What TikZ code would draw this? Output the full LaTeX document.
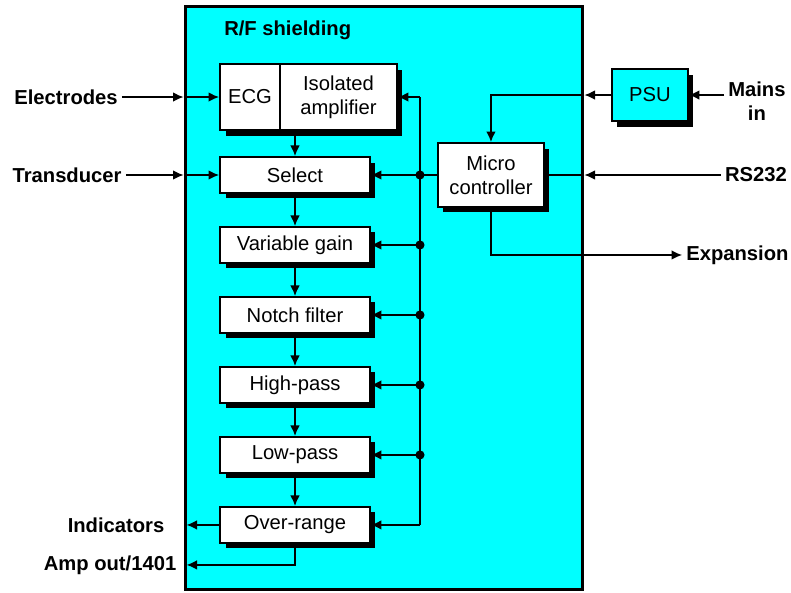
\documentclass[tikz,border=0pt]{standalone}
\usepackage{fontspec}
\setmainfont{Liberation Sans}
\usepackage{tikz}
\usetikzlibrary{arrows.meta,positioning,shadows}
\definecolor{shieldcyan}{RGB}{0,255,255}
\tikzstyle{block} = [draw, rectangle, fill=white, line width=1.1pt, minimum height=0.72cm, minimum width=3cm, drop shadow={shadow xshift=0.11cm, shadow yshift=-0.11cm, opacity=1, fill=black}]
\tikzstyle{tag} = [font=\fontsize{11.5}{13.6}\selectfont\bfseries, align=center, inner sep=2pt]
\tikzstyle{shieldbox} = [draw, rectangle, fill=shieldcyan, line width=1.7pt, minimum width=7.96cm, minimum height=11.68cm]

\begin{document}
\begin{tikzpicture}[x=0.02cm, y=-0.02cm, >={Latex[length=6pt,width=5.5pt]}, line width=0.85pt, font=\fontsize{11.5}{13.6}\selectfont]

\useasboundingbox (0,0) rectangle (791,592);

\node [shieldbox] (shield) at (384,298) {};
\node [tag, anchor=west] (rf) at (220,30) {R/F shielding};

% signal chain
\node [block] (select) at (295,175) {Select};
\node [block, above of=select, node distance=1.56cm, xshift=-0.9cm, minimum width=1.2cm, minimum height=1.32cm] (ecg) {ECG};
\node [block, right of=ecg, node distance=1.77cm, minimum width=2.34cm, minimum height=1.32cm, align=center] (iso) {Isolated\\amplifier};
\node [block, below of=select, node distance=1.4cm] (vargain) {Variable gain};
\node [block, below of=vargain, node distance=1.4cm] (notch) {Notch filter};
\node [block, below of=notch, node distance=1.4cm] (highpass) {High-pass};
\node [block, below of=highpass, node distance=1.4cm] (lowpass) {Low-pass};
\node [block, below of=lowpass, node distance=1.4cm] (overrange) {Over-range};

\node [block, right of=select, node distance=3.92cm, minimum width=2.12cm, minimum height=1.28cm, align=center] (micro) {Micro\\controller};
\node [block, fill=shieldcyan, right of=micro, node distance=3.18cm, yshift=1.6cm, minimum width=1.52cm, minimum height=1.04cm] (psu) {PSU};
\node [coordinate, right of=iso, node distance=1.63cm] (bustop) {};

% outside labels
\node [tag, left of=ecg, node distance=3.68cm] (electrodes) {Electrodes};
\node [tag, left of=select, node distance=4.56cm] (transducer) {Transducer};
\node [tag, right of=psu, node distance=2.14cm, yshift=-0.13cm] (mains) {Mains\\in};
\node [tag, right of=micro, node distance=5.3cm] (rs232) {RS232};
\node [tag, below of=micro, node distance=1.6cm, xshift=4.93cm] (expansion) {Expansion};
\node [tag, left of=overrange, node distance=3.58cm] (indicators) {Indicators};
\node [tag, below of=overrange, node distance=0.8cm, xshift=-3.7cm] (ampout) {Amp out/1401};

\draw [->] (electrodes) -- (ecg -| shield.west);
\draw [->] (ecg -| shield.west) -- (ecg);
\draw [->] (transducer) -- (select -| shield.west);
\draw [->] (select -| shield.west) -- (select);

\draw [->] (ecg.south -| select) -- (select);
\draw [->] (select) -- (vargain);
\draw [->] (vargain) -- (notch);
\draw [->] (notch) -- (highpass);
\draw [->] (highpass) -- (lowpass);
\draw [->] (lowpass) -- (overrange);

% control bus
\draw [->] (bustop) -- (iso);
\draw (bustop) -- (bustop |- overrange);
\draw [->] (bustop |- overrange) -- (overrange);
\draw [->] (micro) -- (select);
\foreach \n in {vargain, notch, highpass, lowpass}
  \draw [->] (bustop |- \n) -- (\n);
\foreach \n in {select, vargain, notch, highpass, lowpass}
  \fill (bustop |- \n) circle (2.6pt);

\draw [->] (mains.west |- psu) -- (psu);
\draw [->] (psu) -- (psu -| shield.east);
\draw [->] (psu -| shield.east) -| (micro.north);
\draw [->] (rs232) -- (micro -| shield.east);
\draw (micro -| shield.east) -- (micro);
\draw [->] (micro) |- (expansion);

\draw [->, shorten >=1.7pt] (overrange) -- (overrange -| shield.west);
\draw [->, shorten >=1.7pt] (overrange) |- (ampout -| shield.west);

\end{tikzpicture}
\end{document}
